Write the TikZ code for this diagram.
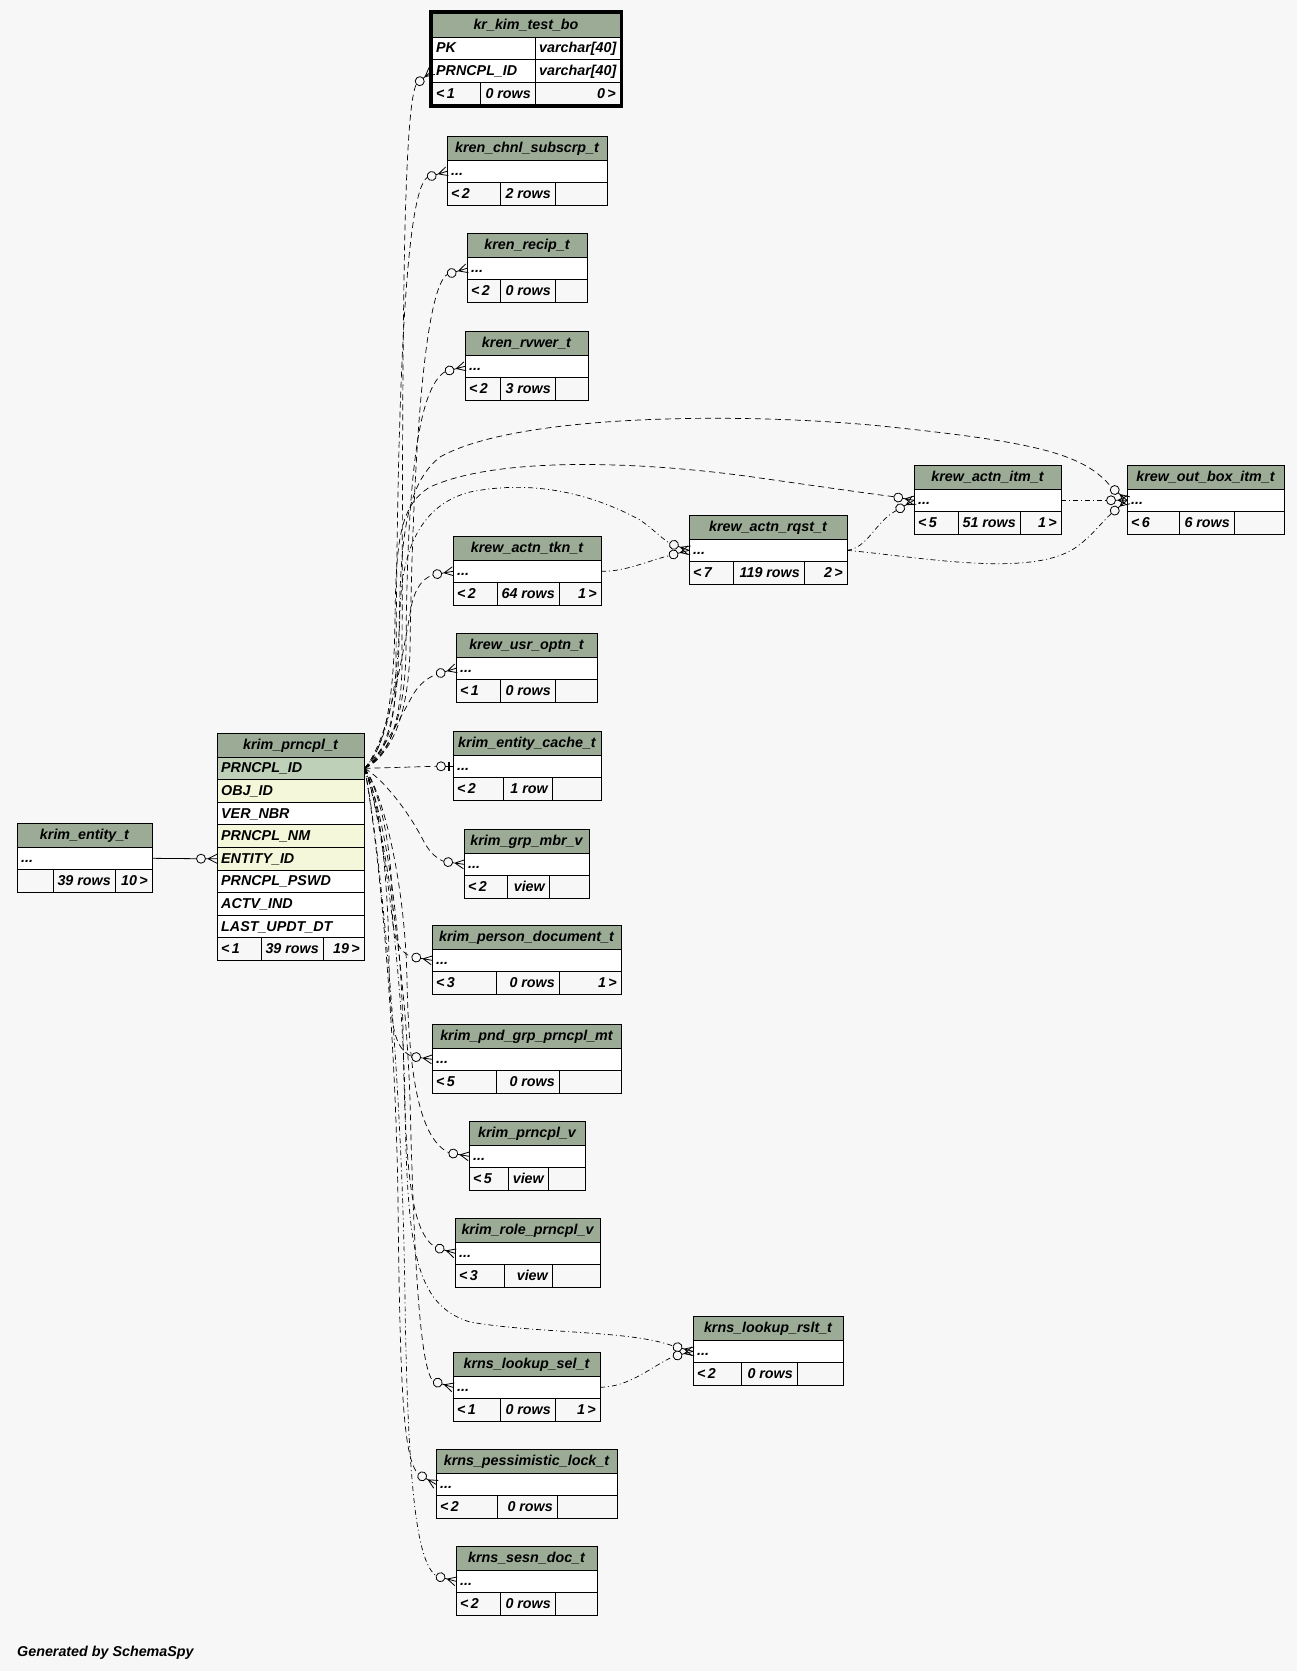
\documentclass[tikz,border=0pt]{standalone}
\usepackage{fontspec}
\setmainfont{Liberation Sans}
\usetikzlibrary{calc}
\pgfdeclarelayer{back}
\pgfdeclarelayer{mid}
\pgfsetlayers{back,mid,main}
\definecolor{bgc}{HTML}{F7F7F7}
\definecolor{hdrc}{HTML}{9BAB96}
\definecolor{pkc}{HTML}{BED1B8}
\definecolor{idxc}{HTML}{F4F7DA}
\tikzset{
  cellbox/.style={draw=black, line width=0.9pt},
  txt/.style={inner sep=0pt, font=\fontsize{14.3}{16}\selectfont\bfseries\itshape, text=black},
  rel/.style={draw=black, line width=0.7pt, dash pattern=on 6pt off 4pt},
  reldot/.style={draw=black, line width=0.7pt, dash pattern=on 5pt off 3pt on 1pt off 3pt},
  fkline/.style={draw=black, line width=0.8pt},
  crowodot/.pic={
    \draw[black, line width=0.8pt, solid, fill=bgc] (-16,0) circle (4.5);
    \draw[black, line width=0.8pt, solid] (-11.5,0) -- (0,0) (-9,0) -- (0,-4.5) (-9,0) -- (0,4.5);},
  teeodot/.pic={
    \draw[black, line width=0.8pt, solid, fill=bgc] (-12,0) circle (4.5);
    \draw[black, line width=0.8pt, solid] (-7.5,0) -- (0,0);
    \draw[black, line width=2.6pt, solid] (-4,-4.5) -- (-4,4.5);}
}
\newcommand\dtbl[5]{%
  \filldraw[cellbox, fill=hdrc] (#2,#3) rectangle (#4,#3+24);
  \node[txt, anchor=base] (#1) at ({(#2+#4)/2},#3+16.5) {#5};
  \filldraw[cellbox, fill=white] (#2,#3+24) rectangle (#4,#3+46.6);
  \node[txt, anchor=base west] (#1-dots) at (#2+4,#3+39.8) {...};
  \coordinate (#1-in) at (#2,#3+35.3);
  \coordinate (#1-out) at (#4,#3+35.3);
}
\newcommand\tblrow[6]{%
  \filldraw[cellbox, fill=#5] (#2,#3) rectangle (#4,#3+22.6);
  \node[txt, anchor=base west] (#1) at (#2+4,#3+15.8) {#6};
}
\newcommand\tblfoot[9]{%
  \filldraw[cellbox, fill=bgc] (#2,#3) rectangle (#4,#3+22.6);
  \filldraw[cellbox, fill=bgc] (#4,#3) rectangle (#5,#3+22.6);
  \filldraw[cellbox, fill=bgc] (#5,#3) rectangle (#6,#3+22.6);
  \node[txt, anchor=base west] (#1-a) at (#2+4,#3+15.8) {#7};
  \node[txt, anchor=base east] (#1-b) at (#5-4,#3+15.8) {#8};
  \node[txt, anchor=base east] (#1-c) at (#6-4,#3+15.8) {#9};
}
\begin{document}
\begin{tikzpicture}[x=1pt,y=-1pt]
\useasboundingbox (0,0) rectangle (1297,1671);
\begin{pgfonlayer}{back}
\fill[bgc] (0,0) rectangle (1297,1671);
\end{pgfonlayer}

% ---------- kr_kim_test_bo ----------
\filldraw[cellbox, fill=hdrc] (432,13) rectangle (620,37);
\node[txt, anchor=base] (kim) at (526,29.5) {kr\_kim\_test\_bo};
\filldraw[cellbox, fill=white] (432,37) rectangle (535,59.6);
\filldraw[cellbox, fill=white] (535,37) rectangle (620,59.6);
\node[txt, anchor=base west] (kim-pk) at (436,52.8) {PK};
\node[txt, anchor=base west] (kim-pkt) at (539,52.8) {varchar[40]};
\filldraw[cellbox, fill=white] (432,59.6) rectangle (535,82.2);
\filldraw[cellbox, fill=white] (535,59.6) rectangle (620,82.2);
\node[txt, anchor=base west] (kim-pid) at (436,75.4) {PRNCPL\_ID};
\node[txt, anchor=base west] (kim-pidt) at (539,75.4) {varchar[40]};
\filldraw[cellbox, fill=bgc] (432,82.2) rectangle (480,104.8);
\filldraw[cellbox, fill=bgc] (480,82.2) rectangle (535,104.8);
\filldraw[cellbox, fill=bgc] (535,82.2) rectangle (620,104.8);
\node[txt, anchor=base west] (kim-fa) at (436,98) {<\,1};
\node[txt, anchor=base east] (kim-fb) at (531,98) {0 rows};
\node[txt, anchor=base east] (kim-fc) at (616,98) {0\,>};
\draw[black, line width=3pt] (430.5,11.5) rectangle (621.5,106.3);
\coordinate (kim-in) at (432,70.9);

% ---------- krim_prncpl_t ----------
\filldraw[cellbox, fill=hdrc] (217,733) rectangle (364,757);
\node[txt, anchor=base] (prn) at (290.5,749.5) {krim\_prncpl\_t};
\tblrow{prn-r1}{217}{757}{364}{pkc}{PRNCPL\_ID}
\tblrow{prn-r2}{217}{779.6}{364}{idxc}{OBJ\_ID}
\tblrow{prn-r3}{217}{802.2}{364}{white}{VER\_NBR}
\tblrow{prn-r4}{217}{824.8}{364}{idxc}{PRNCPL\_NM}
\tblrow{prn-r5}{217}{847.4}{364}{idxc}{ENTITY\_ID}
\tblrow{prn-r6}{217}{870}{364}{white}{PRNCPL\_PSWD}
\tblrow{prn-r7}{217}{892.6}{364}{white}{ACTV\_IND}
\tblrow{prn-r8}{217}{915.2}{364}{white}{LAST\_UPDT\_DT}
\tblfoot{prn-f}{217}{937.8}{261}{323}{364}{<\,1}{39 rows}{19\,>}
\coordinate (pk) at (364.5,768.3);
\coordinate (prnent) at (217,858.7);

% ---------- other tables ----------
\dtbl{ent}{17}{823}{152}{krim\_entity\_t}
\tblfoot{ent-f}{17}{823+46.6}{53}{115}{152}{}{39 rows}{10\,>}
\dtbl{chnl}{447}{136}{607}{kren\_chnl\_subscrp\_t}
\tblfoot{chnl-f}{447}{136+46.6}{500}{555}{607}{<\,2}{2 rows}{}
\dtbl{recip}{467}{233}{587}{kren\_recip\_t}
\tblfoot{recip-f}{467}{233+46.6}{500}{555}{587}{<\,2}{0 rows}{}
\dtbl{rvwer}{465}{331}{588}{kren\_rvwer\_t}
\tblfoot{rvwer-f}{465}{331+46.6}{500}{555}{588}{<\,2}{3 rows}{}
\dtbl{itm}{914}{465}{1061}{krew\_actn\_itm\_t}
\tblfoot{itm-f}{914}{465+46.6}{958}{1020}{1061}{<\,5}{51 rows}{1\,>}
\dtbl{obox}{1127}{465}{1284}{krew\_out\_box\_itm\_t}
\tblfoot{obox-f}{1127}{465+46.6}{1179}{1234}{1284}{<\,6}{6 rows}{}
\dtbl{rqst}{689}{515}{847}{krew\_actn\_rqst\_t}
\tblfoot{rqst-f}{689}{515+46.6}{733}{804}{847}{<\,7}{119 rows}{2\,>}
\dtbl{tkn}{453}{536}{601}{krew\_actn\_tkn\_t}
\tblfoot{tkn-f}{453}{536+46.6}{497}{559}{601}{<\,2}{64 rows}{1\,>}
\dtbl{usr}{456}{633}{597}{krew\_usr\_optn\_t}
\tblfoot{usr-f}{456}{633+46.6}{500}{555}{597}{<\,1}{0 rows}{}
\dtbl{cache}{453}{731}{601}{krim\_entity\_cache\_t}
\tblfoot{cache-f}{453}{731+46.6}{503}{552}{601}{<\,2}{1 row}{}
\dtbl{grp}{464}{829}{589}{krim\_grp\_mbr\_v}
\tblfoot{grp-f}{464}{829+46.6}{507}{549}{589}{<\,2}{view}{}
\dtbl{person}{432}{925}{621}{krim\_person\_document\_t}
\tblfoot{person-f}{432}{925+46.6}{496}{559}{621}{<\,3}{0 rows}{1\,>}
\dtbl{pnd}{432}{1024}{621}{krim\_pnd\_grp\_prncpl\_mt}
\tblfoot{pnd-f}{432}{1024+46.6}{496}{559}{621}{<\,5}{0 rows}{}
\dtbl{prv}{469}{1121}{585}{krim\_prncpl\_v}
\tblfoot{prv-f}{469}{1121+46.6}{508}{548}{585}{<\,5}{view}{}
\dtbl{role}{455}{1218}{600}{krim\_role\_prncpl\_v}
\tblfoot{role-f}{455}{1218+46.6}{504}{552}{600}{<\,3}{view}{}
\dtbl{rslt}{693}{1316}{843}{krns\_lookup\_rslt\_t}
\tblfoot{rslt-f}{693}{1316+46.6}{741}{797}{843}{<\,2}{0 rows}{}
\dtbl{sel}{453}{1352}{600}{krns\_lookup\_sel\_t}
\tblfoot{sel-f}{453}{1352+46.6}{500}{555}{600}{<\,1}{0 rows}{1\,>}
\dtbl{pess}{436}{1449}{617}{krns\_pessimistic\_lock\_t}
\tblfoot{pess-f}{436}{1449+46.6}{497}{557}{617}{<\,2}{0 rows}{}
\dtbl{sesn}{456}{1546}{597}{krns\_sesn\_doc\_t}
\tblfoot{sesn-f}{456}{1546+46.6}{500}{555}{597}{<\,2}{0 rows}{}

\node[txt, anchor=base west] (gen) at (17,1656) {Generated by SchemaSpy};

% ---------- connectors ----------
\begin{pgfonlayer}{mid}
\draw[rel] (pk) .. controls (385,760) and (402,730) .. (402,660) .. controls (403,420) and (401,115) .. ($(kim-in)+(-15.7,13.2)$);
\draw[rel] (pk) .. controls (383,758) and (396,730) .. (396,670) .. controls (397,420) and (404,192) .. ($(chnl-in)+(-19.6,6)$);
\draw[rel] (pk) .. controls (390,755) and (408,720) .. (410,650) .. controls (413,450) and (425,288) .. ($(recip-in)+(-19.6,6)$);
\draw[rel] (pk) .. controls (388,755) and (405,720) .. (406,650) .. controls (407,480) and (418,388) .. ($(rvwer-in)+(-19.8,5.3)$);
\draw[rel] (pk) .. controls (386,755) and (398,715) .. (399,640) .. controls (400,540) and (405,485) .. (440,457) .. controls (520,412) and (760,412) .. (900,428) .. controls (1040,443) and (1085,455) .. ($(obox-in)+(-15.7,-13.2)$);
\draw[rel] (pk) .. controls (385,750) and (394,700) .. (395,620) .. controls (396,540) and (400,505) .. (430,487) .. controls (500,455) and (650,462) .. (760,478) .. controls (830,488) and (872,494) .. ($(itm-in)+(-20.2,-3.6)$);
\draw[reldot] (pk) .. controls (387,745) and (398,690) .. (400,610) .. controls (402,550) and (420,505) .. (470,492) .. controls (540,478) and (600,498) .. (640,520) .. controls (652,528) and (660,537) .. ($(rqst-in)+(-19.3,-7)$);
\draw[rel] (pk) .. controls (390,740) and (405,640) .. (412,603) .. controls (416,588) and (422,579) .. ($(tkn-in)+(-20.2,3.6)$);
\draw[rel] (pk) .. controls (385,750) and (403,712) .. (414,693) .. controls (420,684) and (427,678) .. ($(usr-in)+(-19.6,6)$);
\draw[rel] (pk) -- ($(cache-in)+(-16.5,0)$);
\draw[rel] (pk) .. controls (385,780) and (410,815) .. (422,838) .. controls (428,850) and (434,857) .. ($(grp-in)+(-20.3,-2.9)$);
\draw[rel] (pk) .. controls (380,790) and (392,850) .. (392,900) .. controls (392,935) and (397,952) .. ($(person-in)+(-20.2,-3.6)$);
\draw[rel] (pk) .. controls (378,790) and (388,870) .. (389,960) .. controls (390,1030) and (395,1048) .. ($(pnd-in)+(-20.3,-2.9)$);
\draw[rel] (pk) .. controls (382,790) and (405,880) .. (407,980) .. controls (409,1090) and (423,1140) .. ($(prv-in)+(-20.2,-3.6)$);
\draw[rel] (pk) .. controls (380,800) and (400,900) .. (403,1030) .. controls (405,1180) and (412,1232) .. ($(role-in)+(-19.6,-6)$);
\draw[reldot] (pk) .. controls (378,800) and (402,950) .. (405,1100) .. controls (407,1250) and (415,1305) .. (470,1322) .. controls (540,1334) and (630,1330) .. ($(rslt-in)+(-19.8,-5.3)$);
\draw[rel] (pk) .. controls (378,800) and (405,950) .. (410,1100) .. controls (414,1260) and (420,1370) .. ($(sel-in)+(-19.6,-6)$);
\draw[rel] (pk) .. controls (375,820) and (395,1000) .. (398,1200) .. controls (400,1400) and (404,1458) .. ($(pess-in)+(-17.8,-10.3)$);
\draw[reldot] (pk) .. controls (376,820) and (402,1050) .. (405,1300) .. controls (408,1500) and (418,1562) .. ($(sesn-in)+(-19.8,-5.3)$);
\draw[reldot] (tkn-out) .. controls (625,572) and (650,560) .. ($(rqst-in)+(-19.3,5.3)$);
\draw[reldot] (rqst-out) .. controls (868,548) and (875,522) .. ($(itm-in)+(-17.8,10.3)$);
\draw[reldot] (rqst-out) .. controls (920,557) and (1030,578) .. (1075,548) .. controls (1092,536) and (1100,524) .. ($(obox-in)+(-15.7,13.2)$);
\draw[reldot] (itm-out) -- ($(obox-in)+(-20.5,0)$);
\draw[reldot] (sel-out) .. controls (630,1387) and (652,1366) .. ($(rslt-in)+(-19.8,5.3)$);
\draw[fkline] (ent-out) -- ($(prnent)+(-20.5,0)$);
\end{pgfonlayer}

% ---------- markers ----------
\pic[rotate=40] at (kim-in) {crowodot};
\pic[rotate=17] at (chnl-in) {crowodot};
\pic[rotate=17] at (recip-in) {crowodot};
\pic[rotate=15] at (rvwer-in) {crowodot};
\pic[rotate=-10] at (itm-in) {crowodot};
\pic[rotate=30] at (itm-in) {crowodot};
\pic[rotate=-40] at (obox-in) {crowodot};
\pic at (obox-in) {crowodot};
\pic[rotate=40] at (obox-in) {crowodot};
\pic[rotate=-20] at (rqst-in) {crowodot};
\pic[rotate=15] at (rqst-in) {crowodot};
\pic[rotate=10] at (tkn-in) {crowodot};
\pic[rotate=17] at (usr-in) {crowodot};
\pic at (cache-in) {teeodot};
\pic[rotate=-8] at (grp-in) {crowodot};
\pic[rotate=-10] at (person-in) {crowodot};
\pic[rotate=-8] at (pnd-in) {crowodot};
\pic[rotate=-10] at (prv-in) {crowodot};
\pic[rotate=-17] at (role-in) {crowodot};
\pic[rotate=-15] at (rslt-in) {crowodot};
\pic[rotate=15] at (rslt-in) {crowodot};
\pic[rotate=-17] at (sel-in) {crowodot};
\pic[rotate=-30] at (pess-in) {crowodot};
\pic[rotate=-15] at (sesn-in) {crowodot};
\pic at (prnent) {crowodot};
\end{tikzpicture}
\end{document}
